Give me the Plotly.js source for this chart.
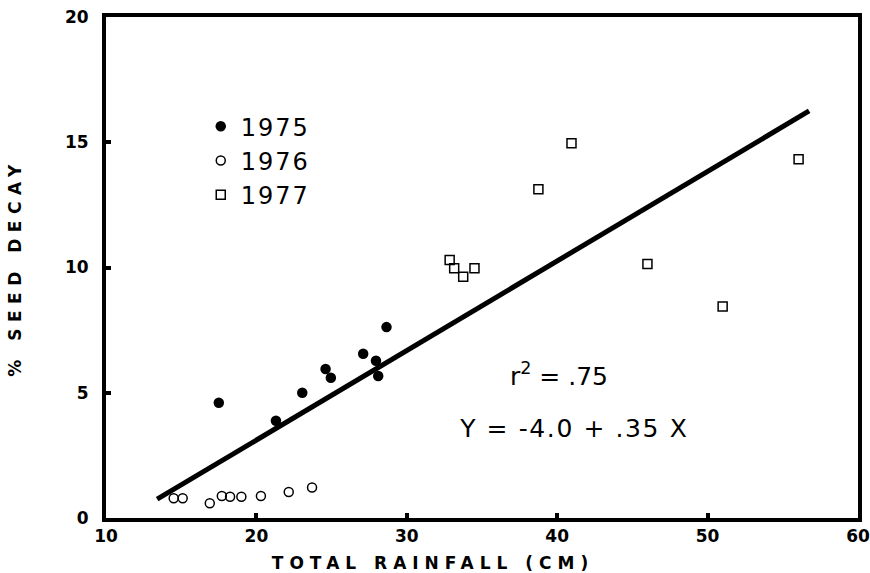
<!DOCTYPE html>
<html>
<head>
<meta charset="utf-8">
<script src="https://cdn.plot.ly/plotly-3.0.1.min.js"></script>
<style>
  html, body { margin: 0; padding: 0; background: #fff; }
  #chart { width: 870px; height: 573px; }
  .xtitle { letter-spacing: 6px; transform: translateX(-49px); }
  .ytitle { letter-spacing: 6.5px; }
  .legendtext { letter-spacing: 2px; }
  g.annotation[data-index="1"] text { letter-spacing: 1.6px; }
</style>
</head>
<body>
<div id="chart"></div>
<script>
// 1975 (filled circles)
const rain1975 = [17.5, 21.3, 23.05, 24.6, 24.95, 27.1, 27.95, 28.1, 28.65];
const decay1975 = [4.6, 3.88, 5.0, 5.95, 5.6, 6.56, 6.28, 5.67, 7.62];
// 1976 (open circles)
const rain1976 = [14.5, 15.1, 16.9, 17.7, 18.25, 19.0, 20.3, 22.15, 23.7];
const decay1976 = [0.79, 0.79, 0.59, 0.88, 0.85, 0.85, 0.88, 1.04, 1.22];
// 1977 (open squares)
const rain1977 = [32.85, 33.15, 33.75, 34.5, 38.75, 40.95, 46.0, 51.0, 56.05];
const decay1977 = [10.3, 9.97, 9.63, 9.97, 13.12, 14.96, 10.14, 8.44, 14.32];
// regression line endpoints
const fitX = [13.4, 56.75];
const fitY = [0.75, 16.25];

const xTicks = [10, 20, 30, 40, 50, 60];
const yTicks = [0, 5, 10, 15, 20];
const seriesNames = ['1975', '1976', '1977'];

const traces = [
  { x: fitX, y: fitY, mode: 'lines', line: { color: '#000', width: 5 },
    showlegend: false, hoverinfo: 'skip' },
  { x: rain1975, y: decay1975, mode: 'markers', name: seriesNames[0],
    marker: { symbol: 'circle', size: 10.5, color: '#000' } },
  { x: rain1976, y: decay1976, mode: 'markers', name: seriesNames[1],
    marker: { symbol: 'circle-open', size: 9, color: '#000', line: { width: 1.5 } } },
  { x: rain1977, y: decay1977, mode: 'markers', name: seriesNames[2],
    marker: { symbol: 'square-open', size: 9, color: '#000', line: { width: 1.5 } } }
];

const tickFont = { family: 'DejaVu Sans', size: 17, color: '#000', weight: 'bold' };

const layout = {
  width: 870, height: 573,
  margin: { l: 106, r: 12, t: 17, b: 55, pad: 0 },
  paper_bgcolor: '#fff', plot_bgcolor: '#fff',
  showlegend: true,
  legend: {
    x: 0.126, y: 0.826, xanchor: 'left', yanchor: 'top',
    font: { family: 'DejaVu Sans', size: 24, color: '#000' },
    bgcolor: 'rgba(0,0,0,0)', borderwidth: 0, tracegroupgap: 0, itemsizing: 'trace'
  },
  xaxis: {
    range: [10, 60], tickvals: xTicks, ticktext: xTicks.map(String),
    showgrid: false, zeroline: false,
    showline: true, linecolor: '#000', linewidth: 4, mirror: true,
    ticks: 'inside', ticklen: 5, tickwidth: 4, tickcolor: '#000',
    tickfont: tickFont, ticklabeloverflow: 'allow',
    title: { text: 'TOTAL RAINFALL (CM)', standoff: 13,
      font: { family: 'DejaVu Sans', size: 17, color: '#000', weight: 'bold' } }
  },
  yaxis: {
    range: [0, 20], tickvals: yTicks, ticktext: yTicks.map(String),
    showgrid: false, zeroline: false,
    showline: true, linecolor: '#000', linewidth: 4, mirror: true,
    ticks: 'inside', ticklen: 5, tickwidth: 4, tickcolor: '#000',
    tickfont: tickFont, ticklabelstandoff: 10, ticklabeloverflow: 'allow',
    title: { text: '% SEED DECAY', standoff: 40,
      font: { family: 'DejaVu Sans', size: 17, color: '#000', weight: 'bold' } }
  },
  annotations: [
    { xref: 'x', yref: 'y', x: 40.12, y: 5.71, showarrow: false,
      text: 'r<sup>2</sup> = .75',
      font: { family: 'DejaVu Sans', size: 25, color: '#000' } },
    { xref: 'x', yref: 'y', x: 41.12, y: 3.59, showarrow: false,
      text: 'Y = -4.0 + .35 X',
      font: { family: 'DejaVu Sans', size: 25, color: '#000' } }
  ]
};

Plotly.newPlot('chart', traces, layout, { displayModeBar: false, staticPlot: true });
</script>
</body>
</html>
